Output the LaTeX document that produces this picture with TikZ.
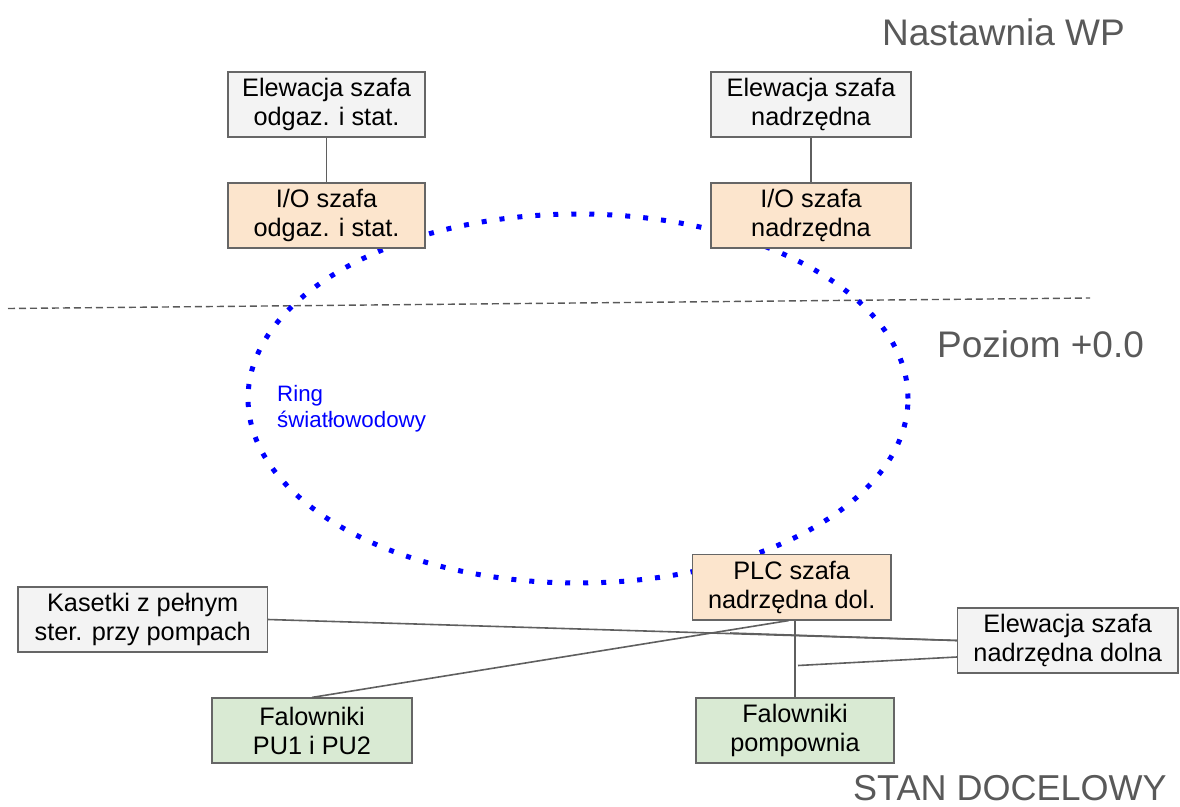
\documentclass[tikz,border=0pt]{standalone}
\usepackage{fontspec}
\setmainfont{Liberation Sans}
\usetikzlibrary{calc}
\definecolor{boxgray}{HTML}{F3F3F3}
\definecolor{boxorange}{HTML}{FCE5CD}
\definecolor{boxgreen}{HTML}{D9EAD3}
\definecolor{edgegray}{HTML}{666666}
\definecolor{linegray}{HTML}{5F5F5F}
\definecolor{titlegray}{HTML}{595959}
\definecolor{ringblue}{HTML}{0000FF}
\tikzset{
  box/.style={draw=edgegray, line width=1.2pt, align=center, inner sep=0pt,
    minimum height=65pt, font=\fontsize{25.3}{29}\selectfont, text=black},
  graybox/.style={box, fill=boxgray},
  orangebox/.style={box, fill=boxorange},
  greenbox/.style={box, fill=boxgreen},
  conn/.style={draw=linegray, line width=1.6pt},
  title/.style={anchor=base west, inner sep=0pt, text=titlegray, font=\fontsize{37}{40}\selectfont},
  ringtext/.style={anchor=base west, inner sep=0pt, text=ringblue, font=\fontsize{22.3}{26}\selectfont},
}
\begin{document}
\begin{tikzpicture}[x=1pt, y=-1pt]
\useasboundingbox (0,0) rectangle (1180,806);
% dashed level line
\coordinate (dl) at (8,308.5);
\coordinate (dr) at (1090,298);
\draw[titlegray, line width=1.4pt, dash pattern=on 7pt off 4pt] (dl) -- (dr);
% ring
\draw[ringblue, line width=5pt, dash pattern=on 5pt off 13pt] (578,398.5) ellipse [x radius=330pt, y radius=184.5pt];
% boxes
\node[graybox, minimum width=197pt] (e1) at (326.5,104.5) {Elewacja szafa\\odgaz. i stat.};
\node[orangebox, minimum width=197pt] (io1) at (326.5,215.5) {I/O szafa\\odgaz. i stat.};
\node[graybox, minimum width=200pt] (e2) at (811,104.5) {Elewacja szafa\\nadrzędna};
\node[orangebox, minimum width=200pt] (io2) at (811,215.5) {I/O szafa\\nadrzędna};
\node[orangebox, minimum width=198.5pt, minimum height=65.5pt] (plc) at (791.7,587.2) {PLC szafa\\nadrzędna dol.};
\node[graybox, minimum width=249.5pt] (kas) at (142.7,619.5) {Kasetki z pełnym\\ster. przy pompach};
\node[graybox, minimum width=220.5pt] (ed) at (1067.7,640.5) {Elewacja szafa\\nadrzędna dolna};
\node[greenbox, minimum width=200pt] (f1) at (312,730.5) {Falowniki\\PU1 i PU2};
\node[greenbox, minimum width=198pt] (f2) at (795,730.5) {Falowniki\\pompownia};
% connectors
\draw[conn] (e1.south) -- (io1.north);
\draw[conn] (e2.south) -- (io2.north);
\draw[conn] (kas.east) -- (ed.west);
\coordinate (j1) at (730,633);
\draw[conn] (j1) -- (ed.west);
\coordinate (j2) at (798,665.5);
\draw[conn] ($(ed.west)+(0,16.5)$) -- (j2);
\draw[conn] (f2.north) -- (f2.north |- plc.south);
\draw[conn] ($(plc.south)+(-3,0)$) -- (f1.north);
% titles
\node[title] (t1) at (882,45) {Nastawnia WP};
\node[title] (t2) at (937,357) {Poziom +0.0};
\node[title, font=\fontsize{36}{40}\selectfont] (t3) at (853,800) {STAN DOCELOWY};
\node[ringtext] (r1) at (277,401.5) {Ring};
\node[ringtext] (r2) at (277,427) {światłowodowy};
\end{tikzpicture}
\end{document}
